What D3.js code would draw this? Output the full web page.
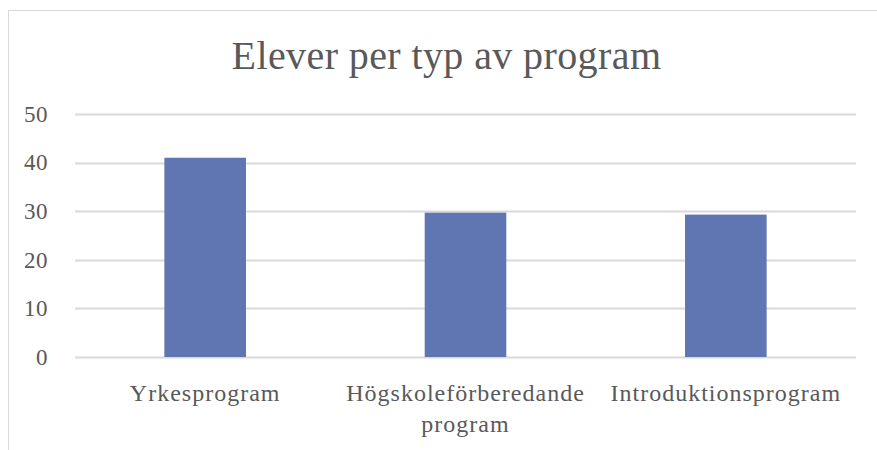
<!DOCTYPE html>
<html>
<head>
<meta charset="utf-8">
<script src="https://cdn.jsdelivr.net/npm/d3@7"></script>
<style>
  html, body { margin: 0; padding: 0; background: #fff; }
  svg { display: block; }
</style>
</head>
<body>
<svg id="chart" width="877" height="450"></svg>
<script>
const title = "Elever per typ av program";
const categories = ["Yrkesprogram", "Högskoleförberedande program", "Introduktionsprogram"];
const values = [41, 29.7, 29.3];
const yTicks = [0, 10, 20, 30, 40, 50];

const W = 877, H = 450;
const margin = { left: 75, right: 21, top: 114, bottom: 93 };
const font = "'Liberation Serif', 'DejaVu Serif', serif";
const textColor = "#595959";

const svg = d3.select("#chart");

// chart border
svg.append("rect")
  .attr("x", 8.5).attr("y", 10.5)
  .attr("width", W + 20).attr("height", H + 20)
  .attr("fill", "#fff").attr("stroke", "#d9d9d9").attr("stroke-width", 1);

const x = d3.scaleBand()
  .domain(categories)
  .range([margin.left, W - margin.right])
  .paddingInner(219 / 319)
  .paddingOuter(219 / 319 / 2);

const y = d3.scaleLinear()
  .domain([0, 50])
  .range([H - margin.bottom, margin.top]);

// gridlines
svg.append("g")
  .selectAll("line")
  .data(yTicks)
  .join("line")
  .attr("x1", margin.left).attr("x2", W - margin.right)
  .attr("y1", d => Math.round(y(d)) + 0.5).attr("y2", d => Math.round(y(d)) + 0.5)
  .attr("stroke", "#d9d9d9").attr("stroke-width", 2);

// y axis labels
const yAxis = d3.axisLeft(y).tickValues(yTicks).tickSize(0).tickPadding(0);
const yg = svg.append("g")
  .attr("transform", `translate(${margin.left - 27},0)`)
  .call(yAxis);
yg.select(".domain").remove();
yg.selectAll("text")
  .attr("font-family", font).attr("font-size", 23).attr("fill", textColor)
  .attr("letter-spacing", 0.5);

// bars
svg.append("g")
  .selectAll("rect")
  .data(values)
  .join("rect")
  .attr("x", (d, i) => x(categories[i]))
  .attr("width", x.bandwidth())
  .attr("y", d => y(d))
  .attr("height", d => y(0) - y(d))
  .attr("fill", "#5f76b3");

// x axis labels with wrapping
const step = x.step();
const xAxis = d3.axisBottom(x).tickSize(0).tickPadding(0);
const xg = svg.append("g")
  .attr("transform", `translate(0,${y(0)})`)
  .call(xAxis);
xg.select(".domain").remove();
xg.selectAll("text")
  .attr("font-family", font).attr("font-size", 24).attr("fill", textColor)
  .attr("letter-spacing", 1)
  .attr("dy", null).attr("y", 0)
  .each(function(d) {
    const t = d3.select(this);
    const words = d.split(" ");
    t.text(null);
    let line = [];
    let lines = [];
    let tspan = t.append("tspan");
    words.forEach(w => {
      line.push(w);
      tspan.text(line.join(" "));
      if (tspan.node().getComputedTextLength() > step && line.length > 1) {
        line.pop();
        lines.push(line.join(" "));
        line = [w];
        tspan.text(w);
      }
    });
    lines.push(line.join(" "));
    t.text(null);
    lines.forEach((l, i) => {
      t.append("tspan").attr("x", 0).attr("y", 44 + i * 31).text(l);
    });
  });

// title
svg.append("text")
  .attr("x", (W + 8) / 2 + 4)
  .attr("y", 69)
  .attr("text-anchor", "middle")
  .attr("font-family", font)
  .attr("font-size", 40)
  .attr("letter-spacing", 0.4)
  .attr("fill", textColor)
  .text(title);
</script>
</body>
</html>
